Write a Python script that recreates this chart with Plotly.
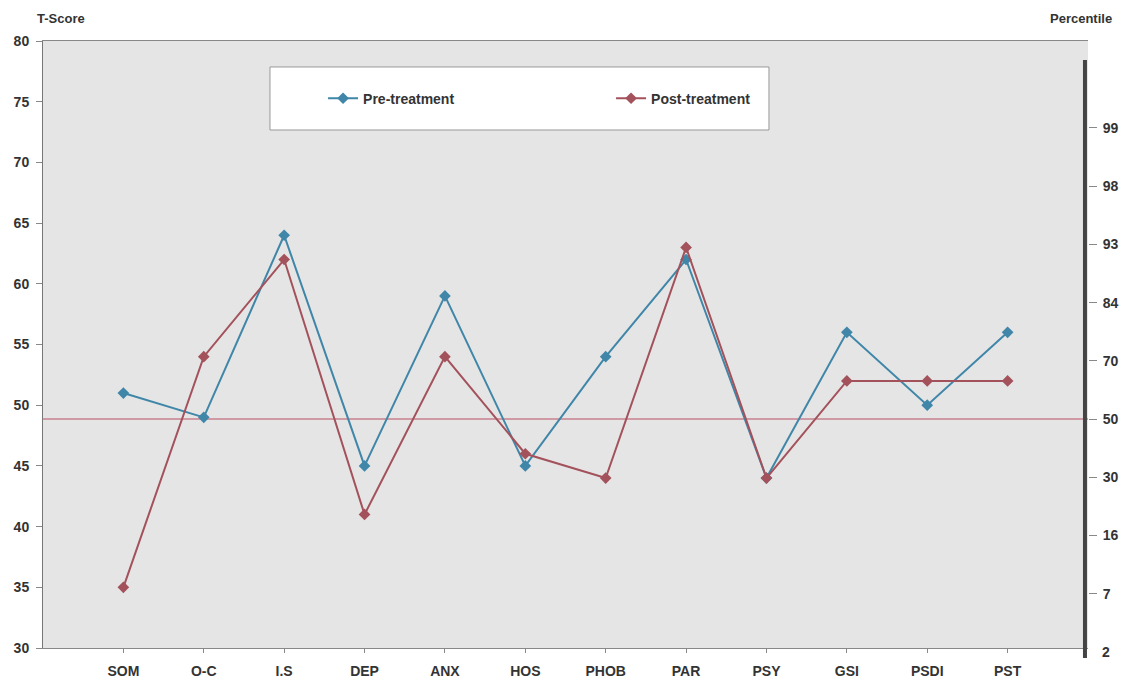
import plotly.graph_objects as go

categories = ["SOM", "O-C", "I.S", "DEP", "ANX", "HOS", "PHOB", "PAR", "PSY", "GSI", "PSDI", "PST"]
pre_treatment = [51, 49, 64, 45, 59, 45, 54, 62, 44, 56, 50, 56]
post_treatment = [35, 54, 62, 41, 54, 46, 44, 63, 44, 52, 52, 52]

t_ticks = [30, 35, 40, 45, 50, 55, 60, 65, 70, 75, 80]
pct_positions = [30, 35, 40, 45, 50, 55, 60, 65, 70, 75]
pct_labels = ["2", "7", "16", "30", "50", "70", "84", "93", "98", "99"]

BLUE = "#3f86a8"
RED = "#a3525c"
FONT = "Liberation Sans, Arial, sans-serif"
TXT = "#333333"

fig = go.Figure()
fig.add_trace(go.Scatter(x=categories, y=pre_treatment, mode="lines+markers", name="Pre-treatment",
                         line=dict(color=BLUE, width=2), marker=dict(symbol="diamond", size=9, color=BLUE)))
fig.add_trace(go.Scatter(x=categories, y=post_treatment, mode="lines+markers", name="Post-treatment",
                         line=dict(color=RED, width=2), marker=dict(symbol="diamond", size=9, color=RED)))
# invisible trace to activate secondary axis
fig.add_trace(go.Scatter(x=[categories[0]], y=[50], yaxis="y2", mode="markers",
                         marker=dict(opacity=0), showlegend=False, hoverinfo="skip"))

y2_range = [30.34, 82.47]
in_range = [(p, l) for p, l in zip(pct_positions, pct_labels) if p >= y2_range[0]]
out_range = [(p, l) for p, l in zip(pct_positions, pct_labels) if p < y2_range[0]]

annotations = [
    dict(text="T-Score", xref="paper", yref="paper", x=-0.008, y=1.022, xanchor="left", yanchor="bottom",
         showarrow=False, font=dict(size=13, family=FONT, color=TXT, weight="bold")),
    dict(text="Percentile", xref="paper", yref="paper", x=1.025, y=1.022, xanchor="right", yanchor="bottom",
         showarrow=False, font=dict(size=13, family=FONT, color=TXT, weight="bold")),
]
for p, l in out_range:
    ypaper = (p - y2_range[0]) / (y2_range[1] - y2_range[0])
    annotations.append(dict(text=l, xref="paper", yref="paper", x=1.0, y=ypaper, xanchor="left", yanchor="middle",
                            xshift=12, showarrow=False,
                            font=dict(size=14, family=FONT, color=TXT, weight="bold")))

fig.update_layout(
    width=1126, height=686,
    margin=dict(l=43, r=38, t=41, b=38, autoexpand=False),
    paper_bgcolor="white",
    plot_bgcolor="#e5e5e5",
    font=dict(family=FONT, color=TXT),
    showlegend=True,
    legend=dict(orientation="h", x=0.268, y=0.905, xanchor="left", yanchor="middle",
                bgcolor="rgba(0,0,0,0)", entrywidth=243, entrywidthmode="pixels",
                font=dict(size=14, family=FONT, color=TXT, weight="bold")),
    xaxis=dict(type="category", range=[-1, 12], showgrid=False, zeroline=False,
               showline=True, linecolor="#888888", linewidth=1, mirror=True,
               ticks="outside", ticklen=4, tickcolor="#888888", ticklabelstandoff=6,
               tickfont=dict(size=14, family=FONT, color=TXT, weight="bold")),
    yaxis=dict(range=[30, 80], tickvals=t_ticks, showgrid=False, zeroline=False,
               showline=True, linecolor="#777777", linewidth=1,
               ticks="outside", ticklen=6, tickcolor="#888888", ticklabelstandoff=4,
               tickfont=dict(size=14, family=FONT, color=TXT, weight="bold")),
    yaxis2=dict(overlaying="y", side="right", range=y2_range,
                tickvals=[p for p, _ in in_range], ticktext=[l for _, l in in_range],
                showgrid=False, zeroline=False,
                showline=False, ticks="outside", ticklen=8, tickcolor="#888888", ticklabelstandoff=3,
                tickfont=dict(size=14, family=FONT, color=TXT, weight="bold")),
    shapes=[
        dict(type="rect", xref="paper", yref="paper", x0=0.2172, x1=0.6947, y0=0.8534, y1=0.9572,
             fillcolor="white", line=dict(color="#999999", width=1), layer="below"),
        dict(type="line", xref="paper", yref="y2", x0=0, x1=1, y0=50, y1=50,
             line=dict(color="#d09aa4", width=2), layer="below"),
        dict(type="line", xref="paper", yref="paper", x0=0.9971, x1=0.9971, y0=-0.0165, y1=0.9687,
             line=dict(color="#444444", width=4)),
    ],
    annotations=annotations,
)

fig.write_html("out.html", config={"displayModeBar": False},
               post_script="document.body.style.margin='0px';")
